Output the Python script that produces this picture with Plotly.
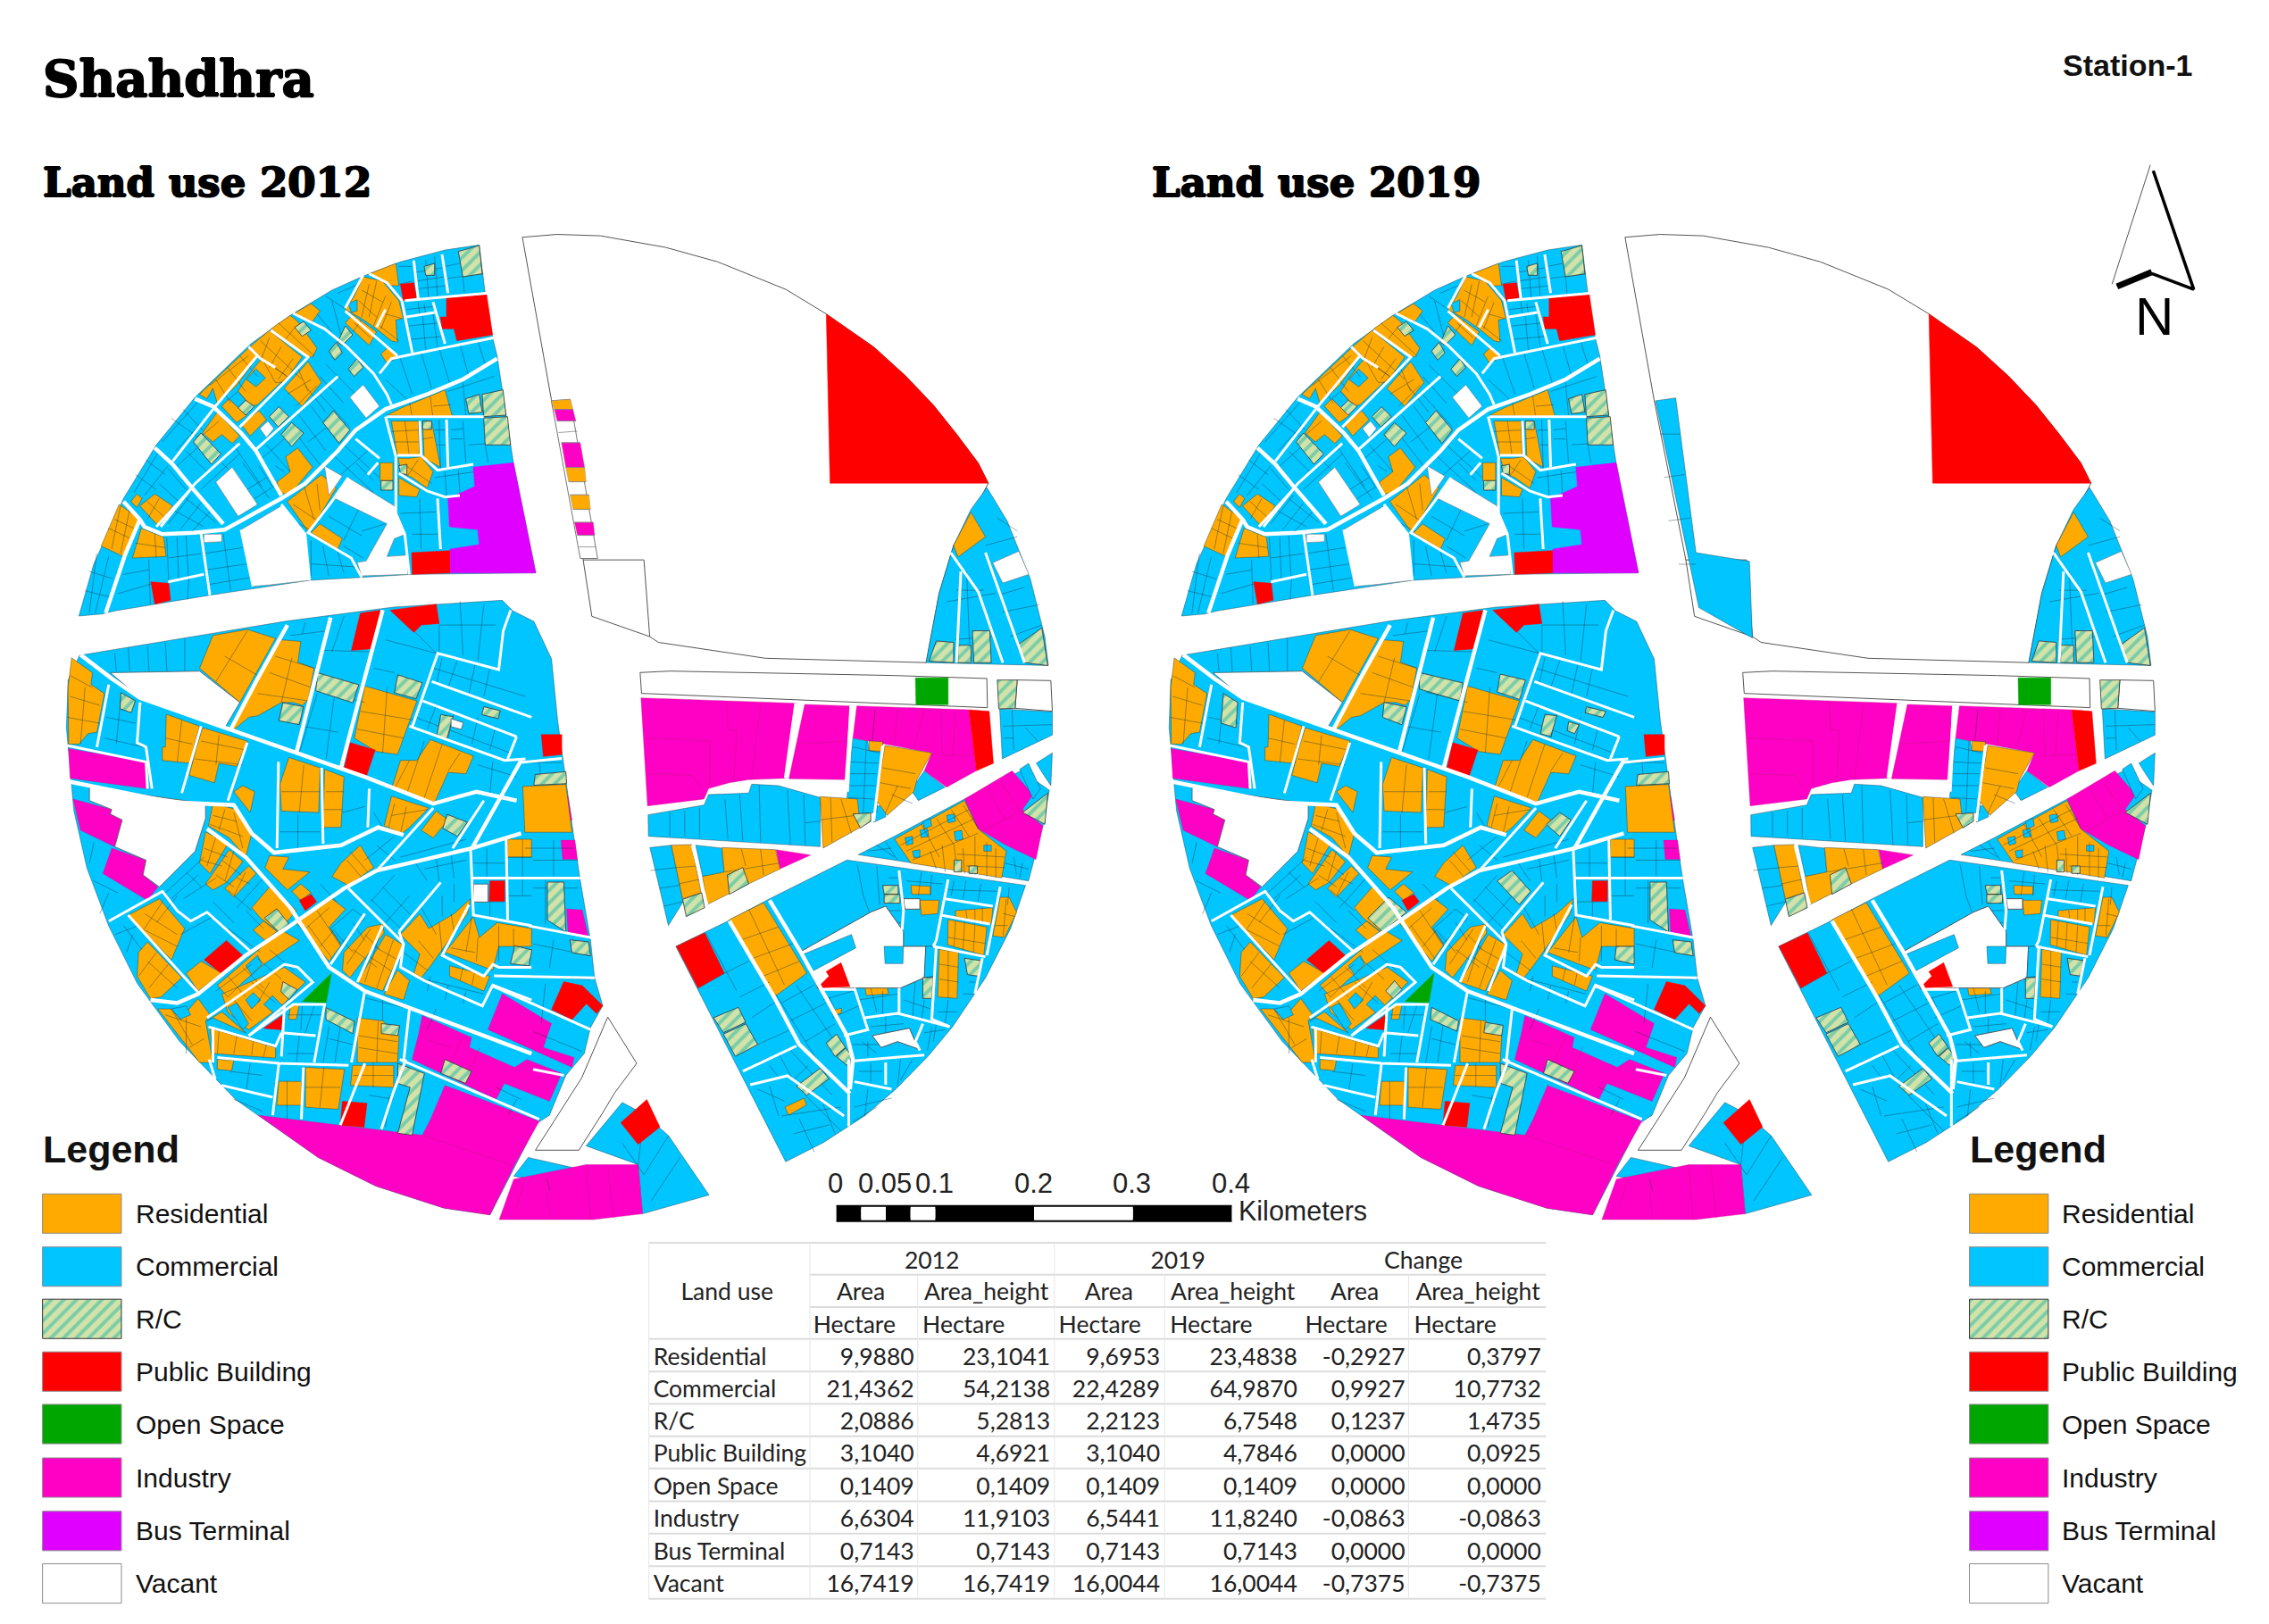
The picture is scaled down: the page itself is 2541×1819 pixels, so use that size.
import plotly.graph_objects as go

# Everything ends up in reference coords scaled to a 1568 wide sheet.
SHEET_W = 1568
SHEET_H = 1122.5
MAP_SHIFT_2019 = 762

LAND_USES = ["Residential", "Commercial", "R/C", "Public Building", "Open Space", "Industry", "Bus Terminal", "Vacant"]
COLORS = {
    "Residential": "#FFAA00", "Commercial": "#00C5FF", "R/C": "#D3E2A8", "Public Building": "#FF0000",
    "Open Space": "#00A600", "Industry": "#FF00C5", "Bus Terminal": "#E000FF", "Vacant": "#FFFFFF",
}

# ---- NW block, crop A
COM_A = [[(10,1275),(60,1100),(160,880),(270,700),(400,540),(588,360),(720,265),(860,180),(960,135),(1090,85),(1240,45),(1355,28),(1375,190),(1400,340),(1415,400),(1470,760),(1545,1130),(1130,1135),(960,1145),(785,1155),(450,1205),(130,1258),(88,1268)]]
RES_A = [
    [(985,125),(1075,90),(1085,165),(1060,165),(1030,150)],
    [(965,135),(1030,150),(1085,215),(1100,275),(1075,280),(1080,355),(1060,350),(1010,310),(960,275),(905,245),(935,200)],
    [(905,290),(930,262),(1010,320),(985,365)],
    [(1025,395),(1050,370),(1085,405),(1045,425)],
    [(730,260),(790,225),(820,250),(795,285)],
    [(655,310),(720,265),(745,285),(810,375),(795,405),(770,400),(700,345)],
    [(585,370),(650,315),(760,405),(700,490),(670,490),(625,410)],
    [(415,530),(580,375),(610,405),(540,500),(475,560),(460,510),(440,545)],
    [(600,440),(622,412),(710,470),(610,565),(590,570),(545,520),(570,480)],
    [(490,570),(515,545),(575,600),(540,625)],
    [(700,510),(780,420),(825,490),(760,570)],
    [(555,630),(615,585),(640,615),(585,670)],
    [(425,660),(475,590),(550,670),(525,695),(490,665),(460,690)],
    [(705,740),(745,710),(795,775),(725,860),(690,865),(675,825),(720,790)],
    [(710,890),(825,800),(875,845),(805,960),(780,990)],
    [(790,995),(820,965),(895,1015),(880,1050)],
    [(215,905),(265,865),(325,905),(275,970)],
    [(185,890),(205,865),(222,880),(205,910)],
    [(85,1040),(145,900),(210,945),(190,1020),(160,1075)],
    [(190,1080),(220,980),(295,1010),(303,1075)],
    [(1045,600),(1095,575),(1240,515),(1265,605)],
    [(1060,620),(1150,620),(1155,735),(1080,735)],
    [(1165,620),(1195,620),(1225,775),(1170,745)],
    [(1022,760),(1065,760),(1065,820),(1022,820)],
    [(1082,745),(1120,745),(1160,740),(1200,790),(1180,845),(1130,810),(1095,795)],
    [(1085,810),(1155,850),(1145,875),(1085,870)],
]
COM_SPECKS_A = [
    [(915,225),(945,212),(945,250),(925,255)],
    [(572,480),(605,445),(637,475),(605,505)],
    [(515,545),(545,520),(570,550),(545,575)],
]
PUB_A = [
    [(1090,160),(1135,155),(1145,205),(1100,215)],
    [(1245,205),(1380,195),(1400,330),(1280,350),(1270,310),(1230,310),(1225,270),(1245,270)],
    [(637,1070),(735,1052),(745,1150),(655,1170)],
    [(252,1160),(312,1165),(318,1222),(265,1235)],
    [(1128,1062),(1258,1055),(1258,1130),(1130,1135)],
]
BUS_A = [[(1335,775),(1470,760),(1545,1130),(1258,1130),(1258,1050),(1355,1035),(1350,985),(1255,975),(1250,880),(1340,840)]]
VAC_A = [
    [(470,825),(525,775),(610,900),(545,940)],
    [(920,540),(965,498),(1020,570),(975,610)],
    [(618,645),(645,620),(665,645),(640,675)],
    [(555,985),(690,905),(770,1000),(785,1155),(655,1170),(595,1175)],
    [(430,1000),(490,1000),(490,1025),(430,1028)],
    [(835,770),(895,805),(850,870)],
    [(870,880),(915,810),(1070,905),(1108,1000),(1070,1015),(1045,1075),(1115,1070),(1115,1135),(960,1140),(945,1095),(975,1090),(1045,965)],
]
RC_A = [
    [(1285,50),(1355,30),(1365,125),(1300,135)],
    [(1170,100),(1205,90),(1205,130),(1175,130)],
    [(735,305),(765,285),(790,315),(760,335)],
    [(880,355),(905,300),(930,330),(895,365)],
    [(850,385),(875,355),(895,390),(870,415)],
    [(915,445),(945,410),(965,440),(935,470)],
    [(545,575),(570,550),(600,570),(570,600)],
    [(395,690),(420,660),(487,730),(455,765)],
    [(650,605),(682,572),(715,605),(680,640)],
    [(690,665),(725,625),(765,660),(725,705)],
    [(830,625),(865,585),(920,650),(885,695)],
    [(1310,545),(1355,530),(1365,590),(1320,595)],
    [(1365,530),(1435,515),(1445,600),(1370,605)],
    [(1370,610),(1450,605),(1460,700),(1375,700)],
    [(1025,820),(1065,820),(1065,852),(1025,852)],
    [(1165,620),(1195,620),(1195,648),(1165,648)],
    [(1085,770),(1112,765),(1112,800),(1090,795)],
]
MAIN_A = [
    [(215,950),(230,975),(290,1000),(395,995),(500,985),(600,930),(690,880),(770,830),(880,720),(940,650),(1040,580),(1180,530),(1300,480),(1415,410)],
    [(215,950),(165,1070),(100,1265)],
    [(465,575),(555,660),(605,720),(690,870)],
    [(400,545),(470,575)],
    [(265,710),(325,765),(395,850),(495,965)],
    [(160,890),(215,950)],
]
ROADS_A = [
    [(1020,460),(1060,410),(1130,395),(1405,340)],
    [(1105,215),(1385,190)],
    [(985,125),(1045,155),(1095,215),(1110,290),(1130,390)],
    [(965,130),(905,240)],
    [(730,258),(835,310),(910,370),(1000,460),(1045,530),(1060,565)],
    [(1040,245),(1010,305)],
    [(905,250),(1080,400)],
    [(655,315),(780,405),(700,490),(550,640)],
    [(580,370),(620,410),(670,440)],
    [(610,400),(465,575),(325,755)],
    [(880,470),(605,715)],
    [(550,695),(400,830),(285,975)],
    [(385,850),(270,975)],
    [(940,680),(1020,745)],
    [(1015,760),(980,800)],
    [(1045,605),(1370,605)],
    [(1040,605),(1075,740),(1075,930),(1105,1000),(1120,1135)],
    [(1080,735),(1160,735)],
    [(1155,620),(1160,735),(1215,785),(1335,765)],
    [(1245,615),(1250,775)],
    [(1085,795),(1180,855),(1240,875),(1290,870)],
    [(1215,880),(1225,1050)],
    [(690,900),(770,1000),(785,1155)],
    [(915,810),(860,890),(780,995),(925,1080),(960,1145)],
    [(420,995),(450,1205)],
    [(310,1160),(430,1135)],
    [(555,985),(595,1175)],
    [(1135,80),(1150,210)],
    [(1230,60),(1250,190)],
    [(1200,220),(1240,360)],
    [(1110,270),(1205,255)],
]
PARCELS_A = [
    [(45,1125),(125,1150)],[(30,1190),(110,1210)],[(70,1065),(45,1265)],[(110,1075),(65,1265)],
    [(110,980),(195,1020)],[(130,950),(205,985)],[(150,905),(120,1050)],[(180,920),(150,1065)],
    [(200,1030),(300,1045)],[(265,1000),(270,1080)],
    [(160,1135),(245,1120)],[(245,1085),(250,1235)],[(305,1010),(312,1160)],[(340,1010),(345,1150)],[(370,1005),(378,1145)],[(310,1080),(420,1065)],[(380,1145),(375,1220)],[(140,1200),(260,1165)],
    [(430,1065),(560,1045)],[(435,1120),(575,1100)],[(440,1170),(590,1145)],[(495,1000),(520,1190)],
    [(195,860),(280,720)],[(230,870),(310,770)],[(200,800),(270,850)],[(235,750),(300,800)],
    [(310,780),(370,850)],[(280,830),(345,890)],[(240,890),(300,945)],[(280,880),(240,950)],
    [(310,965),(385,870)],[(350,985),(420,895)],[(390,990),(450,925)],[(330,920),(430,975)],[(370,880),(470,960)],
    [(290,690),(410,555)],[(335,720),(450,595)],[(320,610),(420,680)],[(360,580),(425,650)],
    [(480,620),(400,690)],[(340,770),(420,700)],[(370,720),(440,790)],[(400,690),(455,750)],
    [(420,850),(550,730)],[(490,760),(560,830)],[(560,760),(650,880)],[(530,700),(625,840)],
    [(575,850),(640,810)],[(600,880),(665,840)],[(640,700),(720,790)],[(620,750),(700,680)],
    [(750,600),(840,720)],[(790,570),(880,690)],[(820,530),(920,640)],[(730,650),(830,780)],[(780,690),(870,620)],
    [(770,500),(840,590)],[(820,470),(900,560)],[(840,430),(960,550)],
    [(470,480),(520,560)],[(510,440),(570,520)],[(450,500),(580,400)],[(550,400),(610,470)],
    [(620,350),(760,480)],[(600,390),(710,470)],[(650,340),(620,420)],[(690,370),(650,440)],[(730,410),(680,480)],[(680,290),(800,400)],[(740,300),(700,350)],
    [(710,530),(790,480)],[(740,570),(810,500)],[(745,440),(780,520)],
    [(810,260),(860,320)],[(860,215),(890,330)],[(840,200),(900,240)],[(880,190),(950,160)],
    [(960,180),(1030,220)],[(950,215),(1010,270)],[(985,160),(960,270)],[(1010,150),(985,270)],[(1040,200),(1000,300)],[(1060,220),(1025,310)],[(1020,300),(1085,350)],[(1040,260),(1095,275)],
    [(935,290),(990,340)],[(960,280),(930,320)],
    [(1085,100),(1130,100)],[(1085,160),(1130,150)],
    [(1140,120),(1230,105)],[(1140,150),(1240,135)],[(1150,175),(1245,165)],[(1175,80),(1185,210)],[(1205,65),(1215,200)],
    [(1240,100),(1290,90)],[(1250,140),(1370,125)],[(1300,130),(1305,190)],
    [(1110,245),(1200,235)],[(1150,220),(1155,265)],[(1170,225),(1175,260)],
    [(1120,300),(1225,290)],[(1125,345),(1235,335)],[(1165,265),(1175,380)],[(1200,260),(1215,370)],
    [(1040,480),(1110,545)],[(1090,410),(1130,530)],[(1160,390),(1195,510)],[(1220,375),(1255,490)],[(1290,360),(1320,470)],[(1350,350),(1375,430)],
    [(1250,520),(1405,470)],[(1300,490),(1310,600)],[(1120,550),(1130,610)],[(1190,535),(1200,610)],[(1200,570),(1260,565)],
    [(1060,655),(1150,650)],[(1060,690),(1155,690)],[(1105,620),(1120,735)],
    [(1165,680),(1200,675)],[(1205,650),(1245,650)],[(1215,700),(1250,700)],[(1220,615),(1225,780)],
    [(1260,650),(1300,645)],[(1260,680),(1300,680)],[(1300,620),(1310,760)],[(1320,700),(1460,690)],[(1375,700),(1385,760)],
    [(1205,810),(1340,790)],[(1240,790),(1245,870)],[(1285,785),(1290,865)],[(1110,770),(1195,830)],[(1150,750),(1110,810)],
    [(850,940),(960,1005)],[(950,915),(900,1020)],[(900,1040),(965,1080)],[(960,990),(1040,965)],
    [(790,1020),(790,1140)],[(830,1040),(850,1140)],[(880,1060),(900,1130)],[(790,1100),(940,1110)],
    [(730,900),(820,960)],[(765,835),(800,950)],[(810,830),(820,920)],[(720,950),(795,990)],
    [(1090,930),(1210,925)],[(1155,880),(1160,1050)],[(1130,1000),(1220,1000)],
    [(860,730),(1000,860)],[(900,700),(1020,810)],[(980,720),(890,800)],[(940,760),(1000,820)],
    [(670,770),(700,790)],[(615,770),(660,840)],
]

# ---- NE sector and east pie, straight in sheet coords
VAC_NE = [[(361,164),(385,162),(415,163),(460,171),(496,181),(543,200),(571,217),(604,240),(626,260),(645,280),(661,300),(676,320),(683,334),(671,357),(659,377),(649,410),(640,458),(529,455),(455,444),(449,440),(409,426),(403,387),(381,276)]]
VAC_NE_INNER = [[(403,387),(445,387),(449,440)]]
PUB_NE = [[(571,217),(604,240),(626,260),(645,280),(661,300),(676,320),(683,334),(573.6,334)]]
VAC_STRIP_2012 = [[(381,277),(394,276),(413,386),(401,386)]]
STRIP_LINES_2012 = [[(383,283),(396,283)],[(385,291),(398,291)],[(386,299),(399,298)],[(388,306),(401,306)],[(391,323),(404,323)],[(393,333),(405,333)],[(394,342),(407,342)],[(396,352),(408,352)],[(397,361),(410,361)],[(399,370),(411,370)],[(400,378),(412,378)]]
RES_STRIP_2012 = [[(381,277),(394,276),(396,283),(383,283)],[(391,323),(404,323),(405,333),(393,333)],[(394,342),(407,342),(408,352),(396,352)]]
IND_STRIP_2012 = [[(383,283),(396,283),(398,291),(385,291)],[(388,306),(401,306),(404,323),(391,323)],[(397,361),(410,361),(411,370),(399,370)]]
COM_E = [[(682,337),(696,360),(712,400),(722,440),(724.5,460),(640,458),(649,410),(659,377),(671,352)]]
RES_E = [[(671,354),(681,371),(662,385),(659,377)]]
VAC_E = [[(686,389),(704,381),(711,397),(693,403)]]
RC_E = [
    [(642,457),(647,443),(659,444),(659,458)],[(662,446),(671,446),(671,458),(662,458)],
    [(672,436),(684,436),(685,458),(673,458)],[(703,446),(720,434),(724,460),(708,458)],
]
ROADS_E = [[(657,382),(676,409),(693,458)],[(664,395),(661,458)],[(681,382),(708,458)]]
PARCELS_E = [
    [(689,358),(703,367)],[(681,377),(703,371)],[(708,406),(691,411)],[(654,416),(688,410)],[(660,442),(686,440)],[(661,408),(680,408)],[(693,423),(718,418)],[(698,440),(720,432)],[(668,395),(670,445)],
]

# ---- SW block, crop B (upper part) and older crop (lower and right edge)
COM_SW = [[(194,76),(700,-10),(960,-45),(1225,-62),(1250,-36),(1302,-9),(1345,85),(1360,240),(1395,500),(1415,640),(1440,790),(1450,885),(1470,955),(1440,1010),(1425,1075),(1380,1130),(1340,1230),(1310,1250),(1195,1480),(1083,1463),(917,1408),(776,1336),(575,1191),(438,1045),(335,900),(265,755),(212,610),(180,465),(162,258),(166,138)]]
RES_B = [
    [(490,125),(605,105),(700,135),(580,350),(445,235)],
    [(720,140),(785,145),(775,215),(830,235),(810,340),(790,360),(760,350),(720,350),(640,395),(610,400),(550,450),(640,270)],
    [(1000,295),(1175,345),(1110,525),(1040,515),(1030,510),(965,470)],
    [(1220,475),(1365,530),(1340,590),(1280,585),(1235,685),(1090,640),(1120,545),(1175,545)],
    [(15,200),(85,250),(80,290),(125,320),(100,450),(70,455),(40,490),(5,490),(3,300)],
    [(333,390),(445,430),(425,500),(420,555),(320,545),(320,500),(330,500)],
    [(455,435),(605,480),(570,565),(510,555),(495,620),(410,595),(435,500)],
    [(745,535),(850,570),(845,720),(720,715),(715,625)],
    [(865,575),(930,600),(920,770),(860,770)],
    [(1090,665),(1215,705),(1150,770),(1125,790),(1065,765)],
    [(560,650),(590,630),(630,650),(615,720)],
    [(490,690),(570,710),(620,790),(600,870),(545,805),(475,765)],
    [(465,785),(540,825),(480,925),(445,890)],
    [(545,845),(590,885),(535,955),(490,980),(465,960)],
    [(610,900),(635,925),(560,1005),(530,975)],
    [(680,865),(745,870),(725,910),(815,920),(740,980),(665,905)],
    [(755,985),(785,960),(820,990),(785,1015)],
    [(890,935),(920,890),(985,830),(1030,905),(945,965)],
    [(620,1040),(685,965),(770,1050),(710,1120),(650,1075)],
    [(625,1115),(660,1085),(705,1120),(665,1150)],
    [(1190,780),(1240,715),(1280,745),(1230,805)],
    [(205,1065),(310,1010),(395,1110),(350,1215)],
    [(240,1190),(270,1155),(385,1275),(315,1340),(280,1345),(235,1270)],
    [(400,1260),(450,1220),(520,1260),(440,1320)],
    [(505,1300),(720,1115),(780,1150),(660,1230),(590,1290),(540,1340)],
    [(770,1090),(890,1010),(935,1045),(880,1105),(920,1165),(880,1220)],
    [(930,1190),(1010,1105),(1060,1095),(1065,1125),(950,1275),(925,1250)],
    [(975,1290),(1070,1130),(1130,1165),(1060,1320)],
    [(1065,1330),(1110,1250),(1150,1285),(1130,1350)],
    [(1120,1130),(1185,1060),(1215,1110),(1300,1060),(1355,1010),(1345,1060),(1225,1230),(1190,1275),(1165,1260),(1185,1195)],
    [(1270,1190),(1365,1070),(1385,1140),(1445,1090),(1560,1110),(1560,1170),(1450,1170),(1430,1250)],
    [(1285,1235),(1420,1270),(1400,1320),(1285,1270)],
    [(1480,810),(1560,810),(1560,870),(1480,870)],
    [(305,1380),(350,1380),(380,1415),(440,1345),(480,1400),(465,1420),(490,1560),(445,1560)],
    [(470,1420),(520,1390),(600,1460),(490,1410)],
    [(520,1330),(730,1240),(800,1290),(720,1370),(610,1450),(540,1390)],
    [(480,1445),(700,1510),(700,1545),(490,1530)],
    [(975,1410),(1060,1420),(1115,1470),(1110,1560),(975,1560)],
    [(750,1370),(780,1365),(770,1415),(745,1415)],
]
COM_SPECKS_B = [
    [(600,1350),(625,1325),(650,1350),(620,1380)],
    [(660,1365),(690,1335),(725,1370),(695,1395)],
    [(540,1375),(570,1360),(610,1430),(590,1450)],
    [(600,1235),(640,1200),(655,1230),(620,1265)],
    [(350,1380),(400,1370),(415,1400),(380,1415)],
    [(885,1110),(960,1045),(1000,1075),(920,1160)],
]
PUB_B = [
    [(985,50),(1055,40),(1025,170),(955,175)],
    [(1085,40),(1240,20),(1250,85),(1190,90),(1165,115)],
    [(950,485),(1035,510),(1005,600),(930,575)],
    [(1420,950),(1470,950),(1470,1018),(1418,1018)],
    [(780,1015),(820,995),(838,1020),(800,1050)],
    [(460,1215),(535,1150),(595,1205),(520,1262)],
    [(660,1445),(725,1400),(720,1450)],
]
OPEN_B = [[(888,1260),(870,1360),(790,1355)]]
IND_B = [
    [(5,505),(265,550),(270,640),(10,605)],
    [(20,675),(150,710),(145,725),(185,745),(160,835),(45,780)],
    [(150,840),(265,880),(255,930),(305,970),(270,1015),(120,925)],
]
VAC_B = [
    [(75,635),(465,690),(465,740),(430,850),(310,970),(255,930),(265,880),(160,835),(185,745),(145,725),(150,710),(75,680)],
    [(145,250),(445,245),(580,350),(530,435),(245,335)],
]
RC_B_2019 = [
    [(840,250),(985,285),(975,345),(838,305)],[(1110,255),(1195,275),(1175,340),(1100,315)],[(720,350),(795,365),(780,425),(715,400)],
    [(180,320),(228,350),(222,435),(172,420)],[(1260,390),(1300,395),(1280,465),(1245,455)],[(1340,415),(1375,425),(1360,455),(1335,445)],
    [(1400,365),(1465,380),(1455,400),(1395,385)],[(1265,760),(1310,720),(1348,745),(1310,800)],[(1100,950),(1150,915),(1212,985),(1175,1030)],
    [(665,1075),(735,1005),(795,1055),(715,1120)],[(1500,1170),(1560,1170),(1560,1230),(1495,1215)],[(725,1320),(755,1285),(780,1315),(750,1345)],
    [(880,1375),(970,1420),(965,1455),(875,1415)],[(1060,1425),(1120,1435),(1115,1470),(1055,1460)],
]
MAIN_B = [
    [(45,190),(150,270),(245,335),(530,435),(1000,600),(1230,690),(1375,650),(1510,680)],
    [(1060,40),(920,570)],
    [(885,65),(770,520)],
    [(740,90),(640,270),(550,440)],
    [(1525,545),(1360,840),(1170,885),(1040,915),(930,975),(750,1100),(600,1200),(440,1330),(370,1360),(280,1350)],
    [(1525,790),(1360,840)],
    [(470,775),(600,870),(750,1040),(880,1240),(1000,1320),(1560,1530)],
    [(0,615),(75,630),(350,685),(560,695),(620,790),(695,855),(920,830),(1045,770),(1130,795)],
]
ROADS_B = [
    [(1490,40),(1465,110),(1450,240),(1245,185),(1160,430)],
    [(1225,280),(1560,400)],
    [(1195,345),(1510,465)],
    [(1150,430),(1470,545),(1540,540)],
    [(1510,465),(1480,540)],
    [(140,290),(100,500)],
    [(0,495),(265,550),(270,640)],
    [(245,350),(235,485),(265,500),(285,640)],
    [(140,1085),(320,985),(370,1050),(415,1085),(470,1055),(620,1190)],
    [(1400,680),(1295,840)],
    [(1230,705),(1045,910)],
    [(205,1065),(445,1330)],
    [(470,1410),(730,1230),(775,1240),(825,1290),(610,1470)],
    [(610,1470),(760,1365),(865,1365),(830,1560)],
    [(475,1440),(700,1505),(720,1460)],
    [(490,1440),(490,1560)],
    [(1000,1320),(955,1560)],
    [(1150,1380),(1130,1560)],
    [(1355,835),(1365,1065),(1560,1100)],
    [(1360,940),(1560,940)],
    [(1475,810),(1480,1080)],
    [(1255,955),(1115,1120)],
    [(1350,1030),(1260,1200),(1400,1270),(1430,1230),(1450,1240),(1560,1240)],
    [(1115,1120),(1130,1165),(1070,1320)],
    [(945,975),(1130,1160),(1120,1240),(1200,1285),(1395,1370),(1430,1300),(1560,1350)],
    [(1060,1100),(975,1290)],
    [(1000,1060),(885,1230)],
    [(710,550),(705,840)],
    [(855,570),(860,825)],
    [(1015,640),(1010,770)],
    [(450,430),(385,655)],
    [(605,485),(540,680)],
    [(730,1370),(720,1540)],
    [(720,1460),(835,1470)],
]
PARCELS_B = [
    [(160,185),(165,245)],[(205,165),(210,245)],[(270,160),(275,245)],[(330,150),(335,245)],[(395,135),(395,245)],
    [(605,110),(500,280)],[(530,195),(650,265)],[(700,195),(830,235)],[(680,250),(820,300)],[(640,320),(810,345)],[(755,200),(720,350)],
    [(860,175),(1020,180)],[(860,315),(1000,350)],[(840,320),(780,520)],[(900,310),(870,540)],[(790,430),(910,450)],
    [(930,60),(890,180)],[(1070,140),(1240,185)],[(1030,235),(1100,250)],[(1170,115),(1240,185)],[(1250,90),(1250,180)],[(1320,10),(1330,190)],[(1400,20),(1380,210)],[(1250,90),(1440,90)],
    [(800,80),(790,120)],[(750,125),(870,110)],
    [(1230,235),(1540,330)],[(1260,200),(1240,290)],[(1310,210),(1280,300)],[(1370,225),(1350,320)],[(1420,235),(1400,330)],
    [(1240,360),(1210,440)],[(1300,380),(1280,470)],[(1380,400),(1360,490)],[(1440,430),(1420,510)],[(1170,400),(1490,520)],
    [(1075,300),(1060,520)],[(985,380),(1170,410)],[(975,440),(1130,470)],
    [(1150,545),(1100,640)],[(1200,480),(1140,660)],[(1260,490),(1200,670)],[(1320,520),(1280,580)],[(1380,560),(1510,600)],[(1430,550),(1420,660)],
    [(10,260),(85,300)],[(10,330),(110,360)],[(0,400),(110,420)],[(60,300),(45,490)],
    [(130,400),(230,420)],[(125,470),(255,500)],[(180,340),(165,490)],
    [(385,410),(370,550)],[(330,470),(420,490)],[(450,480),(600,510)],[(430,540),(590,560)],[(510,460),(500,560)],
    [(720,650),(850,650)],[(795,560),(780,720)],[(715,785),(850,785)],[(775,725),(775,840)],
    [(860,710),(925,710)],[(925,720),(1000,700)],[(870,650),(930,650)],
    [(1030,720),(1060,770)],[(1100,690),(1080,770)],[(1140,700),(1120,790)],[(1090,730),(1210,710)],
    [(490,730),(570,750)],[(480,760),(590,800)],[(530,710),(510,780)],[(560,720),(590,840)],
    [(460,840),(540,870)],[(450,880),(520,900)],[(500,800),(470,900)],[(520,880),(585,930)],[(500,930),(560,970)],[(560,850),(530,950)],
    [(570,940),(615,960)],[(600,920),(560,1000)],
    [(330,990),(460,870)],[(350,1010),(440,930)],[(400,920),(450,970)],[(390,1010),(500,940)],[(490,1020),(560,1090)],[(540,980),(620,1050)],[(570,1040),(660,940)],
    [(540,1110),(650,1190)],[(600,1050),(660,1110)],
    [(230,1100),(370,1170)],[(260,1060),(370,1130)],[(320,1020),(260,1110)],[(300,1090),(370,1000)],
    [(270,1220),(370,1310)],[(300,1190),(240,1270)],[(340,1230),(275,1310)],[(380,1130),(490,1070)],
    [(160,1130),(240,1100)],[(190,1100),(250,1180)],[(220,1130),(200,1190)],[(90,820),(75,890)],[(90,950),(170,990)],[(140,990),(110,1060)],
    [(840,1050),(920,1170)],[(810,1100),(890,1210)],[(790,1120),(880,1040)],[(850,1170),(900,1110)],
    [(900,1120),(960,1190)],[(960,1090),(1000,1150)],[(850,960),(905,1020)],[(940,880),(1000,950)],[(950,850),(1010,920)],
    [(1000,1130),(1050,1180)],[(960,1180),(1040,1240)],[(940,1230),(1020,1110)],
    [(1010,1200),(1100,1260)],[(1030,1170),(1120,1220)],[(1050,1130),(1000,1290)],[(1095,1150),(1040,1310)],
    [(1000,880),(1100,800)],[(1040,830),(1100,880)],[(1120,870),(1340,810)],
    [(1170,890),(1210,950)],[(1240,870),(1250,950)],[(1290,860),(1300,940)],[(1200,910),(1340,880)],
    [(1020,1010),(1120,1110)],[(1060,970),(1160,1070)],[(1100,930),(1020,1020)],[(1150,1000),(1070,1090)],
    [(1260,1000),(1260,1070)],[(1300,960),(1300,1020)],
    [(1190,1040),(1240,1130)],[(1180,1150),(1230,1210)],[(1250,1090),(1260,1190)],[(1290,1060),(1300,1120)],[(1130,1190),(1210,1250)],
    [(1365,890),(1470,890)],[(1410,840),(1410,940)],[(1360,1020),(1470,1020)],[(1420,1020),(1420,1070)],[(1480,870),(1560,870)],[(1530,810),(1530,1000)],[(1480,1000),(1560,1000)],
    [(1290,1175),(1370,1190)],[(1340,1190),(1360,1070)],[(1380,1140),(1375,1220)],[(1450,1100),(1450,1220)],[(1500,1110),(1500,1170)],
    [(1330,1240),(1320,1285)],[(1370,1250),(1360,1300)],[(1200,1280),(1400,1330)],[(1220,1270),(1210,1320)],[(1280,1300),(1270,1350)],[(1340,1320),(1330,1360)],
    [(500,1320),(620,1230)],[(540,1270),(600,1340)],[(590,1240),(660,1310)],[(640,1210),(720,1280)],[(680,1180),(760,1250)],
    [(560,1350),(620,1420)],[(620,1290),(700,1360)],[(680,1290),(640,1360)],
    [(330,1400),(450,1440)],[(400,1410),(400,1530)],[(350,1380),(420,1500)],[(460,1480),(410,1510)],
    [(510,1450),(505,1530)],[(570,1470),(560,1530)],[(625,1490),(620,1535)],[(670,1500),(660,1540)],
    [(740,1400),(860,1400)],[(790,1370),(785,1450)],[(830,1370),(800,1460)],[(740,1530),(830,1530)],[(780,1470),(770,1560)],
    [(880,1440),(860,1560)],[(880,1480),(960,1500)],[(920,1420),(900,1560)],
    [(990,1340),(1130,1375)],[(1060,1340),(1060,1420)],[(980,1470),(1110,1490)],[(980,1510),(1110,1530)],[(1045,1420),(1040,1560)],
    [(1240,1380),(1210,1450)],[(1150,1380),(1230,1410)],
]
RES_SW = [
    [(530,1090),(570,1092),(565,1118),(530,1115)],
    [(680,1145),(735,1145),(735,1205),(675,1205)],
    [(745,1110),(840,1115),(825,1215),(745,1210)],
    [(860,1105),(960,1105),(960,1160),(855,1155)],
    [(1275,405),(1380,400),(1395,520),(1280,520)],
]
PUB_SW = [
    [(1320,275),(1370,275),(1370,325),(1325,330)],
    [(835,1195),(895,1200),(888,1260),(830,1255)],
    [(1375,895),(1420,905),(1470,955),(1455,975),(1430,950),(1395,990),(1345,965)],
]
IND_SW = [
    [(1030,980),(1130,1025),(1150,1035),(1145,1060),(1255,1110),(1285,1090),(1370,1125),(1340,1195),(1230,1150),(1210,1190),(1085,1130),(1005,1090),(1020,1030)],
    [(1190,1015),(1225,925),(1345,1000),(1325,1060),(1400,1085),(1395,1110)],
    [(630,1230),(830,1255),(1030,1280),(1050,1240),(1085,1155),(1315,1245),(1255,1355),(1195,1480),(1083,1463),(917,1408),(776,1336)],
    [(1307,435),(1385,430),(1395,490),(1307,495)],
    [(1368,540),(1402,540),(1408,588),(1372,588)],
    [(1382,712),(1420,715),(1435,782),(1385,770)],
]
RC_SW_2012 = [
    [(775,120),(875,150),(860,195),(770,165)],[(970,125),(1030,145),(1015,185),(962,170)],[(690,195),(740,205),(730,250),(680,240)],
    [(295,170),(330,190),(320,220),(293,210)],[(1075,225),(1105,230),(1090,285),(1065,280)],[(1180,205),(1220,215),(1215,235),(1175,225)],
    [(1090,475),(1140,495),(1115,530),(1080,510)],[(645,735),(675,712),(705,750),(680,770)],[(1255,805),(1297,815),(1290,855),(1245,850)],
    [(690,895),(725,915),(705,940),(685,920)],[(795,960),(865,995),(860,1025),(795,990)],[(930,1000),(975,1005),(970,1030),(930,1025)],
]
RC_SW = [
    [(1305,375),(1380,368),(1382,398),(1302,402)],[(1335,645),(1375,645),(1380,770),(1335,740)],[(1390,790),(1435,795),(1440,830),(1395,822)],
    [(1085,1090),(1150,1120),(1135,1150),(1075,1125)],[(970,1100),(1035,1125),(1005,1280),(970,1275),(1000,1160),(970,1150)],
]
VAC_SW_2012 = [[(1100,235),(1130,245),(1125,262),(1100,255)],[(1155,650),(1190,650),(1190,695),(1155,695)]]
ROADS_SW = [
    [(1270,345),(1370,335)],[(1290,635),(1415,635)],[(1290,755),(1445,785)],[(1300,1115),(1375,1130)],[(975,1090),(1315,1240)],
    [(1200,905),(1440,1015)],[(1205,880),(1450,885)],[(990,1090),(960,1170),(930,1265)],[(890,1100),(830,1255)],[(740,1110),(735,1240)],
    [(680,1100),(665,1230)],[(540,1155),(665,1185)],[(510,1090),(525,1140)],[(530,1085),(680,1100),(850,1105)],
]
PARCELS_SW = [
    [(700,1145),(700,1240)],[(745,1160),(830,1160)],[(790,1110),(780,1210)],[(860,1130),(960,1130)],[(910,1100),(910,1160)],
    [(610,1100),(600,1170)],[(570,1190),(640,1220)],[(560,1120),(640,1130)],[(900,1180),(960,1190)],[(950,1180),(940,1260)],
    [(1210,1160),(1270,1190)],[(1260,1190),(1240,1230)],[(1300,1020),(1420,1070)],[(1300,880),(1440,890)],[(1330,900),(1320,1000)],[(1300,800),(1440,830)],[(1350,790),(1340,860)],
    [(1300,660),(1410,660)],[(1330,640),(1330,750)],[(1300,590),(1410,590)],[(1280,560),(1400,560)],[(1350,540),(1350,630)],[(1280,345),(1370,345)],[(1315,340),(1320,400)],
]
PARCELS_PINK_SW = [[(1085,1130),(1130,1030)],[(1040,1040),(1100,1060)],[(1170,1060),(1150,1110)],[(1030,1280),(1250,1355)],[(1280,1390),(1260,1460)]]

# ---- SE block, crop C
COM_C = [
    [(1213,222),(1390,232),(1390,310),(1222,390)],
    [(720,320),(770,330),(775,362),(815,365),(800,570),(740,575),(700,520)],
    [(960,430),(1030,485),(940,530),(915,495)],
    [(795,550),(830,545),(830,585),(790,603)],
    [(32,578),(220,545),(235,510),(370,505),(380,475),(470,480),(610,520),(610,685),(33,650)],
    [(38,688),(110,680),(150,870),(100,950)],
    [(192,680),(280,690),(288,775),(215,785)],
    [(738,712),(850,655),(1095,525),(1285,430),(1380,495),(1360,610),(1310,800),(1220,785)],
    [(1335,405),(1390,370),(1385,480)],
    [(700,730),(1300,815),(1250,960),(1166,1125),(1055,1290),(972,1390),(864,1500),(759,1590),(620,1680),(494,1744),(125,1020),(290,940),(440,860)],
]
RES_C = [
    [(775,330),(820,332),(820,365),(775,362)],
    [(828,345),(985,370),(935,460),(925,500),(835,580),(800,530),(815,420)],
    [(610,517),(735,525),(745,620),(620,690)],
    [(110,680),(178,678),(210,840),(148,860)],
    [(280,688),(460,695),(475,760),(370,810),(230,880),(215,785),(288,770)],
    [(860,660),(1095,530),(1140,625),(1235,700),(1220,790),(915,740)],
    [(305,930),(420,873),(565,1110),(455,1190)],
    [(1040,930),(1170,955),(1160,1050),(1038,1015)],
    [(1065,900),(1190,890),(1185,945),(1065,920)],
    [(945,865),(1010,865),(1005,910),(950,915)],
    [(915,815),(980,818),(980,845),(918,845)],
    [(1010,1030),(1075,1040),(1070,1195),(1005,1190)],
    [(1190,985),(1215,855),(1245,855),(1270,905),(1230,990)],
    [(760,1155),(830,1135),(840,1180),(765,1185)],
]
RES_C_2012 = [[(492,1560),(556,1530),(564,1553),(504,1587)],[(650,1235),(682,1228),(680,1245),(652,1250)]]
COM_SPECKS_C = [
    [(955,600),(980,590),(985,615),(960,625)],[(895,655),(920,650),(922,675),(900,680)],[(945,630),(970,625),(975,650),(950,655)],
    [(1035,580),(1060,575),(1065,600),(1040,605)],[(1060,635),(1085,630),(1090,660),(1065,665)],[(920,700),(945,695),(945,720),(925,722)],[(1160,680),(1185,680),(1185,700),(1160,700)],
]
IND_C = [
    [(8,185),(530,203),(495,455),(370,460),(305,470),(235,490),(220,525),(30,548)],
    [(558,207),(710,212),(692,460),(505,457)],
    [(733,212),(1110,225),(1135,430),(1035,485),(960,430),(985,370),(825,340),(770,330),(720,320)],
    [(462,695),(578,713),(475,760)],
    [(1095,525),(1255,430),(1325,510),(1290,560),(1358,615),(1335,728),(1235,680),(1140,625)],
]
COM_TOP_C = [
    [(1280,425),(1310,405),(1350,490),(1325,525)],
    [(550,1048),(715,980),(730,1025),(585,1103)],
    [(825,1020),(890,1020),(888,1078),(828,1078)],
    [(965,1020),(1000,1020),(995,1120),(960,1125)],
]
PUB_C = [
    [(1110,225),(1178,230),(1192,405),(1135,430)],
    [(127,1020),(222,975),(288,1110),(200,1160)],
    [(600,1160),(640,1120),(630,1105),(680,1075),(710,1155)],
]
OPEN_C = [[(930,118),(1040,118),(1040,208),(932,208)]]
RC_C = [
    [(720,575),(780,572),(780,600),(745,622)],
    [(148,862),(212,840),(222,890),(160,920)],
    [(298,780),(350,755),(370,810),(305,845)],
    [(1290,570),(1375,505),(1365,610)],
    [(252,1260),(335,1225),(360,1275),(285,1310)],
    [(285,1315),(360,1280),(400,1350),(325,1390)],
    [(630,1345),(665,1315),(695,1360),(660,1390)],
    [(665,1390),(695,1362),(718,1390),(700,1420)],
    [(530,1490),(610,1430),(640,1465),(565,1520)],
    [(820,815),(872,815),(872,845),(825,845)],
    [(825,845),(878,845),(878,875),(825,875)],
    [(1095,1060),(1150,1068),(1140,1120),(1105,1115)],
    [(955,1125),(990,1125),(985,1195),(955,1195)],
    [(1060,730),(1085,730),(1085,770),(1060,770)],
    [(1110,750),(1138,750),(1138,775),(1110,775)],
    [(1205,125),(1272,125),(1265,220),(1210,222)],
]
VAC_C = [
    [(5,100),(105,95),(860,110),(1170,120),(1172,218),(10,170)],
    [(1272,125),(1385,127),(1390,230),(1265,220)],
    [(540,1040),(780,905),(830,885),(890,970),(890,1020),(965,1020),(960,1125),(880,1160),(700,1160),(605,1165),(580,1110)],
    [(890,860),(945,860),(945,895),(895,895)],
    [(785,1320),(910,1295),(940,1365),(870,1340),(815,1360)],
]
MAIN_C = [
    [(440,865),(545,1040),(700,1320),(720,1400),(710,1500)],
    [(305,935),(455,1190),(540,1350),(710,1515)],
    [(530,203),(495,455)],
    [(715,212),(700,500)],
]
ROADS_C = [
    [(1040,795),(1000,1000),(990,1020)],
    [(1215,820),(1170,1050)],
    [(1030,860),(1190,885)],
    [(1015,915),(1180,945)],
    [(990,1020),(1165,1055)],
    [(875,765),(890,900),(885,965)],
    [(1000,1020),(985,1265),(1045,1290)],
    [(350,1440),(530,1355)],
    [(375,1485),(500,1455),(690,1590)],
    [(725,1160),(770,1300),(690,1320)],
    [(610,1165),(725,1165)],
    [(760,1260),(870,1245),(1045,1290)],
    [(875,1160),(875,1250)],
    [(955,1280),(930,1340),(945,1370)],
    [(725,1405),(960,1385)],
    [(830,1410),(830,1485)],
    [(725,1475),(850,1500)],
    [(706,1400),(706,1625)],
    [(1155,1060),(1130,1180)],
    [(1330,405),(1380,490)],
    [(180,680),(230,880)],
    [(820,345),(790,600)],
]
PARCELS_C = [
    [(795,225),(785,330)],
    [(105,570),(105,650)],[(155,565),(155,650)],[(205,555),(205,655)],[(290,525),(300,660)],[(340,510),(350,665)],[(405,478),(410,670)],[(500,495),(510,680)],[(555,510),(560,680)],[(560,605),(610,600)],
    [(645,520),(650,670)],[(680,525),(715,640)],[(610,595),(730,580)],
    [(720,350),(810,370)],[(710,400),(810,405)],[(705,440),(800,440)],[(700,480),(800,480)],[(705,520),(790,525)],[(765,330),(755,570)],
    [(820,420),(930,440)],[(810,470),(915,490)],[(870,480),(830,570)],[(850,510),(920,540)],
    [(40,765),(130,755)],[(70,825),(140,815)],[(85,885),(150,870)],[(130,755),(200,750)],[(135,810),(205,795)],
    [(345,692),(360,750)],[(410,695),(420,780)],[(290,770),(475,740)],
    [(800,680),(860,720)],[(830,670),(870,730)],[(770,700),(850,690)],
    [(880,680),(1110,560)],[(900,700),(1130,590)],[(920,730),(1140,640)],[(950,610),(1010,720)],[(1000,590),(1060,680)],[(1050,560),(1110,650)],[(1090,545),(1140,620)],
    [(980,700),(1000,760)],[(1020,680),(1030,770)],[(1060,680),(1070,770)],[(1090,690),(1095,775)],[(1130,650),(1130,780)],[(1170,670),(1170,785)],[(1200,690),(1200,790)],[(1070,710),(1230,720)],[(1100,750),(1230,755)],
    [(1260,720),(1270,780)],[(1230,740),(1310,760)],[(1290,740),(1280,790)],
    [(1225,280),(1390,275)],[(1255,225),(1260,360)],[(1225,320),(1260,320)],[(1300,285),(1340,330)],
    [(735,745),(755,850),(775,905)],[(800,750),(810,880)],
    [(370,895),(490,1150)],[(340,1000),(470,955)],[(385,1060),(520,1010)],[(420,1120),(540,1070)],
    [(288,1110),(370,1070)],[(200,1160),(290,1110)],[(340,1190),(440,1140)],[(380,1260),(470,1200)],[(400,1350),(510,1300)],[(225,975),(330,1170)],
    [(460,1180),(630,1450)],[(530,1150),(700,1400)],[(480,1210),(590,1150)],[(510,1270),(630,1210)],[(560,1340),(660,1280)],
    [(470,1380),(520,1470)],[(400,1410),(530,1360)],[(440,1420),(470,1460)],[(510,1370),(650,1520)],[(570,1420),(520,1470)],
    [(400,1500),(490,1540)],[(440,1490),(470,1590)],[(480,1590),(680,1560)],[(560,1520),(680,1640)],[(540,1600),(590,1710)],[(620,1550),(660,1650)],[(520,1650),(640,1620)],
    [(620,1200),(720,1170)],[(640,1190),(680,1280)],[(650,1260),(740,1220)],
    [(740,1200),(870,1180)],[(780,1160),(800,1240)],[(820,1170),(820,1250)],
    [(780,1290),(890,1280)],[(830,1255),(830,1310)],
    [(890,1200),(980,1230)],[(930,1130),(920,1260)],[(960,1200),(950,1270)],
    [(960,1310),(1030,1300)],[(985,1290),(970,1370)],[(1000,1280),(990,1340)],
    [(1005,1240),(1070,1240)],[(1040,1200),(1030,1280)],
    [(750,1340),(800,1380)],[(770,1340),(770,1390)],[(720,1350),(810,1350)],
    [(740,1440),(820,1440)],[(780,1410),(780,1480)],[(880,1400),(870,1490)],[(920,1400),(880,1470)],
    [(725,1560),(850,1530)],[(770,1500),(760,1590)],[(720,1610),(800,1560)],
    [(1065,935),(1060,1020)],[(1095,940),(1090,1030)],[(1130,950),(1125,1040)],[(1040,990),(1165,1010)],
    [(1100,900),(1105,935)],[(1130,895),(1130,945)],[(1155,890),(1155,945)],
    [(1010,1080),(1075,1090)],[(1010,1130),(1075,1140)],[(1040,1030),(1040,1195)],
    [(1225,910),(1265,920)],[(1195,950),(1240,950)],[(1235,860),(1225,985)],
    [(1060,800),(1050,850)],[(1100,800),(1090,860)],[(1150,810),(1140,870)],[(1040,830),(1205,835)],
    [(1245,820),(1240,880)],[(900,800),(1020,810)],[(950,770),(940,850)],[(985,780),(980,850)],
    [(840,790),(870,790)],[(830,900),(880,900)],[(840,940),(885,940)],
    [(1090,1180),(1130,1180)],[(1110,1140),(1130,1140)],
]
PARCELS_PINK_C = [
    [(295,200),(300,290),(330,295),(320,470)],[(410,205),(380,460)],[(20,320),(240,330),(240,480)],[(30,440),(180,445),(210,490)],[(530,340),(700,330)],
    [(870,225),(860,345)],[(960,225),(925,350)],[(1015,230),(1020,380),(1130,375)],[(1065,235),(1055,380)],
    [(1145,640),(1290,560)],[(1170,490),(1230,590)],[(1210,460),(1280,560)],
]

# ---- sliver south of the SW road, sheet coords
COM_M = [
    [(402,752),(416,735),(428,750),(412,768)],
    [(405,792),(430,762),(445,770),(462,785),(490,826),(444,839),(441,805)],
    [(355,813),(365,800),(400,808),(398,820)],
]
IND_M = [[(345,843),(355,815),(405,805),(441,805),(444,839),(410,843)]]
VAC_M = [[(420,703),(440,735),(425,755),(416,770),(400,795),(370,795),(402,745)]]
PUB_M = [[(429,776),(447,760),(456,779),(441,791)]]
PARCELS_M = [[(445,770),(441,805)],[(462,785),(445,812)],[(430,790),(445,812)],[(470,800),(450,830)],[(378,815),(380,823)],[(412,768),(402,752)]]
PARCELS_PINK_M = [[(378,823),(380,842)],[(405,805),(408,843)],[(420,805),(424,842)]]

# ---- 2019 only, sheet coords (already on the right map)
COM_STRIP_2019 = [[(1144,277),(1158,275),(1172,382),(1209,388),(1211,441),(1174,420)]]
COM_STRIP_LINES_2019 = [[(1147,300),(1161,300)],[(1150,330),(1164,328)],[(1153,360),(1168,358)],[(1160,390),(1172,390)]]

# scale bar and table
SCALE_TICKS = [0, 0.05, 0.1, 0.2, 0.3, 0.4]
SCALE_TICK_LABELS = ["0", "0.05", "0.1", "0.2", "0.3", "0.4"]
SCALE_BLACK = [(0, 0.025), (0.05, 0.075), (0.1, 0.2), (0.3, 0.4)]
SCALE_WHITE = [(0.025, 0.05), (0.075, 0.1), (0.2, 0.3)]

TABLE_USES = LAND_USES
AREA_2012 = ["9,9880", "21,4362", "2,0886", "3,1040", "0,1409", "6,6304", "0,7143", "16,7419"]
HEIGHT_2012 = ["23,1041", "54,2138", "5,2813", "4,6921", "0,1409", "11,9103", "0,7143", "16,7419"]
AREA_2019 = ["9,6953", "22,4289", "2,2123", "3,1040", "0,1409", "6,5441", "0,7143", "16,0044"]
HEIGHT_2019 = ["23,4838", "64,9870", "6,7548", "4,7846", "0,1409", "11,8240", "0,7143", "16,0044"]
AREA_CHANGE = ["-0,2927", "0,9927", "0,1237", "0,0000", "0,0000", "-0,0863", "0,0000", "-0,7375"]
HEIGHT_CHANGE = ["0,3797", "10,7732", "1,4735", "0,0925", "0,0000", "-0,0863", "0,0000", "-0,7375"]
TABLE_COLUMNS = [AREA_2012, HEIGHT_2012, AREA_2019, HEIGHT_2019, AREA_CHANGE, HEIGHT_CHANGE]
TABLE_COL_RIGHT = [631.7, 725.8, 801.6, 896.5, 971, 1065]
TABLE_COL_CENTER = [594.9, 681.6, 766.3, 852, 936.2, 1021.3]
TABLE_COL_LEFT = [562, 637.5, 731.6, 808.5, 901.8, 977.1]
TABLE_ROW_LINES = [859, 881, 903.4, 925.5, 948, 970.4, 992.7, 1015, 1037.6, 1060, 1082.6, 1105]
TABLE_X = [448.4, 559.7, 634.2, 728.7, 804.8, 973.4, 1068.4]


# crop -> sheet transforms
def ta(p):
    return ((p[0] / 3 + 85) / 1.6205, (p[1] / 3 + 265) / 1.6205)


def tb(p):
    return (p[0] / 4.8615 + 46.4, p[1] / 4.8615 + 413.5)


def tc(p):
    return (p[0] / 4.8615 + 441.3, p[1] / 4.8615 + 444.3)


def tsw(p):
    return (p[0] / 3.529, p[1] / 3.63 + 432)


def sheet(p):
    return p


def path(polys, tr=sheet, shift=0):
    xs, ys = [], []
    for poly in polys:
        for p in poly:
            x, y = tr(p)
            xs.append(x + shift)
            ys.append(y)
        xs.append(None)
        ys.append(None)
    return xs, ys


def closed(polys):
    return [list(p) + [p[0]] for p in polys]


fig = go.Figure()
PARCEL_LINE = "rgba(30,60,70,0.55)"
PINK_LINE = "rgba(190,30,130,0.6)"
ROAD_W = 3
MAIN_W = 4.5


def add_fill(polys, tr, shift, use, edge=PARCEL_LINE, edge_w=0.8):
    if not polys:
        return
    x, y = path(closed(polys), tr, shift)
    kw = {}
    if use == "R/C":
        kw["fillpattern"] = dict(shape="/", bgcolor=COLORS["R/C"], fgcolor="#22B8A8", size=10, solidity=0.4)
        edge = "#333333"
    fig.add_trace(go.Scatter(x=x, y=y, mode="lines", fill="toself", fillcolor=COLORS[use],
                             line=dict(color=edge, width=edge_w), hoverinfo="skip", showlegend=False, name=use, **kw))


def add_lines(polys, tr, shift, color, width):
    if not polys:
        return
    x, y = path(polys, tr, shift)
    fig.add_trace(go.Scatter(x=x, y=y, mode="lines", line=dict(color=color, width=width), hoverinfo="skip", showlegend=False))


def draw_map(shift, year):
    add_fill(VAC_NE, sheet, shift, "Vacant", "#555555", 1)
    add_lines(VAC_NE_INNER, sheet, shift, "#555555", 1)
    add_fill(PUB_NE, sheet, shift, "Public Building", "#FF0000", 0.5)
    add_fill(COM_A, ta, shift, "Commercial")
    add_fill(COM_E, sheet, shift, "Commercial")
    add_fill(COM_SW, tsw, shift, "Commercial")
    add_fill(COM_C, tc, shift, "Commercial")
    add_fill(COM_M, sheet, shift, "Commercial")
    add_fill(IND_C, tc, shift, "Industry", PINK_LINE, 0.6)
    add_fill(IND_B, tb, shift, "Industry", PINK_LINE, 0.6)
    add_fill(IND_SW, tsw, shift, "Industry", PINK_LINE, 0.6)
    add_fill(IND_M, sheet, shift, "Industry", PINK_LINE, 0.6)
    add_lines(PARCELS_PINK_C, tc, shift, PINK_LINE, 0.8)
    add_lines(PARCELS_PINK_SW, tsw, shift, PINK_LINE, 0.8)
    add_lines(PARCELS_PINK_M, sheet, shift, PINK_LINE, 0.8)
    add_fill(COM_TOP_C, tc, shift, "Commercial")
    add_fill(RES_A, ta, shift, "Residential")
    add_fill(RES_E, sheet, shift, "Residential")
    add_fill(RES_B, tb, shift, "Residential")
    add_fill(RES_SW, tsw, shift, "Residential")
    add_fill(RES_C, tc, shift, "Residential")
    if year == 2012:
        add_fill(RES_C_2012, tc, shift, "Residential")
    add_fill(COM_SPECKS_A, ta, shift, "Commercial")
    add_fill(COM_SPECKS_B, tb, shift, "Commercial")
    add_fill(COM_SPECKS_C, tc, shift, "Commercial")
    add_lines(PARCELS_A, ta, shift, PARCEL_LINE, 0.8)
    add_lines(PARCELS_B, tb, shift, PARCEL_LINE, 0.8)
    add_lines(PARCELS_SW, tsw, shift, PARCEL_LINE, 0.8)
    add_lines(PARCELS_C, tc, shift, PARCEL_LINE, 0.8)
    add_lines(PARCELS_E, sheet, shift, PARCEL_LINE, 0.8)
    add_lines(PARCELS_M, sheet, shift, PARCEL_LINE, 0.8)
    add_fill(PUB_A, ta, shift, "Public Building", "#FF0000", 0.5)
    add_fill(PUB_B, tb, shift, "Public Building", "#FF0000", 0.5)
    add_fill(PUB_SW, tsw, shift, "Public Building", "#FF0000", 0.5)
    add_fill(PUB_C, tc, shift, "Public Building", "#FF0000", 0.5)
    add_fill(PUB_M, sheet, shift, "Public Building", "#FF0000", 0.5)
    add_fill(BUS_A, ta, shift, "Bus Terminal", "#E000FF", 0.5)
    add_fill(OPEN_B, tb, shift, "Open Space", "#00A600", 0.5)
    add_fill(VAC_A, ta, shift, "Vacant", "#777777", 0.6)
    add_fill(VAC_E, sheet, shift, "Vacant", "#777777", 0.6)
    add_fill(VAC_B, tb, shift, "Vacant", "#555555", 0.8)
    add_fill(VAC_M, sheet, shift, "Vacant", "#555555", 1)
    add_fill(VAC_C, tc, shift, "Vacant", "#555555", 1)
    add_fill(COM_TOP_C[1:], tc, shift, "Commercial")
    add_fill(PUB_C[2:], tc, shift, "Public Building", "#FF0000", 0.5)
    add_fill(OPEN_C, tc, shift, "Open Space", "#00A600", 0.5)
    add_fill(RC_A, ta, shift, "R/C")
    add_fill(RC_E, sheet, shift, "R/C")
    add_fill(RC_C, tc, shift, "R/C")
    add_fill(RC_SW, tsw, shift, "R/C")
    if year == 2012:
        add_fill(RC_SW_2012, tsw, shift, "R/C")
        add_fill(VAC_SW_2012, tsw, shift, "Vacant", "#555555", 0.8)
        add_fill(VAC_STRIP_2012, sheet, shift, "Vacant", "#555555", 0.8)
        add_fill(RES_STRIP_2012, sheet, shift, "Residential", "#999999", 0.5)
        add_fill(IND_STRIP_2012, sheet, shift, "Industry", "#999999", 0.5)
        add_lines(STRIP_LINES_2012, sheet, shift, "#777777", 0.7)
    else:
        add_fill(RC_B_2019, tb, shift, "R/C")
        add_fill(COM_STRIP_2019, sheet, 0, "Commercial")
        add_lines(COM_STRIP_LINES_2019, sheet, 0, PARCEL_LINE, 0.8)
    add_lines(ROADS_A, ta, shift, "white", ROAD_W)
    add_lines(MAIN_A, ta, shift, "white", MAIN_W)
    add_lines(ROADS_E, sheet, shift, "white", ROAD_W)
    add_lines(ROADS_B, tb, shift, "white", ROAD_W)
    add_lines(MAIN_B, tb, shift, "white", MAIN_W)
    add_lines(ROADS_SW, tsw, shift, "white", ROAD_W)
    add_lines(ROADS_C, tc, shift, "white", ROAD_W)
    add_lines(MAIN_C, tc, shift, "white", MAIN_W)


draw_map(0, 2012)
draw_map(MAP_SHIFT_2019, 2019)


# ---- legends
LEGEND_TOPS = [825.2, 861.9, 898, 934.4, 970.7, 1007.7, 1044.6, 1080.9]
SWATCH_H = 27.2


def note(x, y, text, size, family="Liberation Sans", anchor="left", bold=False, color="#111111", heavy=False):
    font = dict(family=family, size=size, color=color)
    if heavy:
        font["shadow"] = "1px 0 0 black, -1px 0 0 black, 0 1px 0 black, 0 -1px 0 black"
    fig.add_annotation(x=x, y=y, text=f"<b>{text}</b>" if bold else text, showarrow=False, xanchor=anchor, yanchor="middle",
                       xref="x", yref="y", font=font)


for swatch_x, label_x in [(29.4, 92.3), (1361, 1423.3)]:
    note(swatch_x - 1, 794, "Legend", 43, bold=True)
    for use, top in zip(LAND_USES, LEGEND_TOPS):
        box = [[(swatch_x, top), (swatch_x + 54.5, top), (swatch_x + 54.5, top + SWATCH_H), (swatch_x, top + SWATCH_H)]]
        add_fill(box, sheet, 0, use, "#8a8a8a", 1)
        note(label_x, top + SWATCH_H / 2, use, 30)

# ---- titles
note(28.5, 54, "Shahdhra", 56, family="DejaVu Serif", bold=True, color="black", heavy=True)
note(28.5, 126, "Land use 2012", 45, family="DejaVu Serif", bold=True, color="black", heavy=True)
note(795, 126, "Land use 2019", 45, family="DejaVu Serif", bold=True, color="black", heavy=True)
note(1424.5, 45, "Station-1", 34, bold=True)

# ---- north arrow
add_lines([[(1486, 114), (1459.5, 196.5)]], sheet, 0, "#555555", 1)
add_lines([[(1488, 118), (1516, 200), (1487, 189)]], sheet, 0, "black", 3.5)
add_lines([[(1463, 198), (1487, 188)]], sheet, 0, "black", 7)
note(1489, 219, "N", 60, anchor="center", color="black")

# ---- scale bar, positioned from its own km values
BAR_X0 = 578
BAR_PER_KM = 683
BAR_TOP, BAR_BOTTOM = 833.5, 844
for spans, color in [(SCALE_BLACK, "black"), (SCALE_WHITE, "white")]:
    for a, b in spans:
        x0, x1 = BAR_X0 + a * BAR_PER_KM, BAR_X0 + b * BAR_PER_KM
        inset = 0 if color == "black" else 2
        fig.add_trace(go.Scatter(x=[x0, x1, x1, x0, x0], y=[BAR_TOP + inset, BAR_TOP + inset, BAR_BOTTOM - inset, BAR_BOTTOM - inset, BAR_TOP + inset],
                                 mode="lines", fill="toself", fillcolor=color, line=dict(width=0), hoverinfo="skip", showlegend=False))
add_lines([[(BAR_X0, BAR_TOP), (BAR_X0 + 0.4 * BAR_PER_KM, BAR_TOP)], [(BAR_X0, BAR_BOTTOM), (BAR_X0 + 0.4 * BAR_PER_KM, BAR_BOTTOM)]], sheet, 0, "black", 2)
for km, label in zip(SCALE_TICKS, SCALE_TICK_LABELS):
    note(BAR_X0 + km * BAR_PER_KM - 0.5, 818, label, 31, anchor="center", color="#222222")
note(854.5, 837, "Kilometers", 30.5, color="#222222")

# ---- table
GRID = "#dcdcdc"
TABLE_FONT = "Lato"
TABLE_SIZE = 26.5
TEXT_DROP = 2.5
rows = TABLE_ROW_LINES
add_lines([[(TABLE_X[0], y), (TABLE_X[-1], y)] for y in rows if y != rows[1] and y != rows[2]], sheet, 0, GRID, 2)
add_lines([[(TABLE_X[1], rows[1]), (TABLE_X[-1], rows[1])], [(TABLE_X[1], rows[2]), (TABLE_X[-1], rows[2])]], sheet, 0, GRID, 2)
add_lines([[(TABLE_X[0], rows[0]), (TABLE_X[0], rows[-1])], [(TABLE_X[1], rows[0]), (TABLE_X[1], rows[-1])], [(TABLE_X[3], rows[0]), (TABLE_X[3], rows[-1])]], sheet, 0, "#e6e6e6", 1)
add_lines([[(TABLE_X[i], rows[1]), (TABLE_X[i], rows[-1])] for i in (2, 4, 5)], sheet, 0, "#e6e6e6", 1)

row_mid = [(rows[i] + rows[i + 1]) / 2 + TEXT_DROP for i in range(len(rows) - 1)]
data_mid = row_mid[3:]


def table_text(x, y, text, position):
    fig.add_trace(go.Scatter(x=x, y=y, text=text, mode="text", textposition=position, hoverinfo="skip", showlegend=False,
                             textfont=dict(family=TABLE_FONT, size=TABLE_SIZE, color="#222222")))


table_text([644, 814, 983.6], [row_mid[0]] * 3, ["2012", "2019", "Change"], "middle center")
table_text([502.4], [892 + TEXT_DROP], ["Land use"], "middle center")
table_text(TABLE_COL_CENTER, [row_mid[1]] * 6, ["Area", "Area_height"] * 3, "middle center")
table_text(TABLE_COL_LEFT, [row_mid[2]] * 6, ["Hectare"] * 6, "middle right")
table_text([451.5] * 8, data_mid, TABLE_USES, "middle right")
for right, col in zip(TABLE_COL_RIGHT, TABLE_COLUMNS):
    table_text([right] * 8, data_mid, col, "middle left")

fig.update_xaxes(range=[0, SHEET_W], visible=False, fixedrange=True)
fig.update_yaxes(range=[SHEET_H, 0], visible=False, fixedrange=True)
fig.update_layout(width=2541, height=1819, margin=dict(l=0, r=0, t=0, b=0), paper_bgcolor="white", plot_bgcolor="white", showlegend=False)

fig.write_html("out.html", post_script="document.body.style.margin='0';", config={"displayModeBar": False})
